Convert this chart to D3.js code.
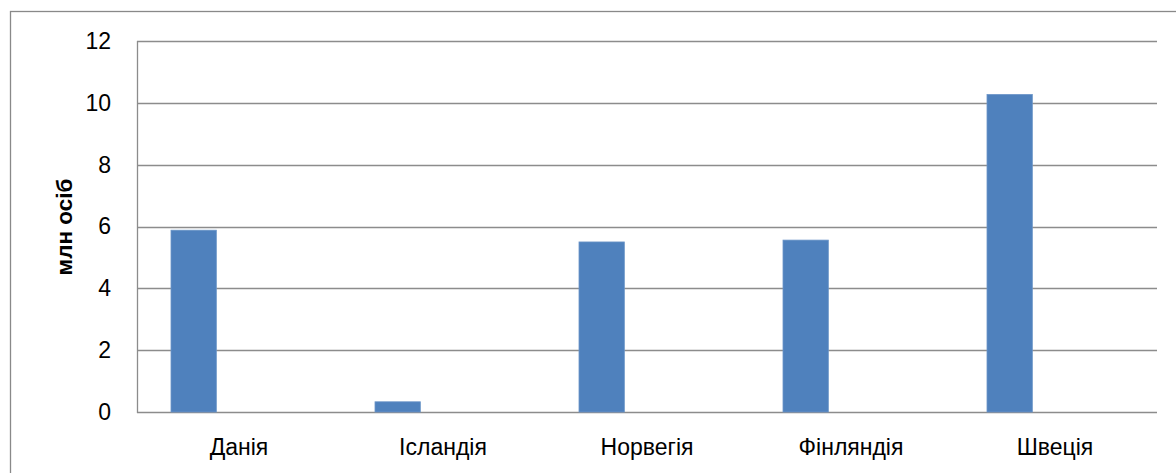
<!DOCTYPE html>
<html>
<head>
<meta charset="utf-8">
<script src="https://cdn.jsdelivr.net/npm/d3@7"></script>
<style>
  html, body { margin: 0; padding: 0; background: #fff; }
  svg { display: block; }
  text { font-family: "Liberation Sans", Arial, sans-serif; fill: #000; }
</style>
</head>
<body>
<svg id="chart" width="1176" height="473"></svg>
<script>
// Population of the Nordic countries, million people
const countries = ["Данія", "Ісландія", "Норвегія", "Фінляндія", "Швеція"];
const population = [5.88, 0.33, 5.50, 5.56, 10.27];
const yTicks = [0, 2, 4, 6, 8, 10, 12];
const yTitle = "млн осіб";
// three series slots per category; only the first one carries values
const seriesSlots = ["s1", "s2", "s3"];

const svg = d3.select("#chart");
const W = 1176, H = 473;
const plot = { left: 137, right: 1157, top: 41, bottom: 412 };
const fontSize = "23px";

// outer chart frame
svg.append("rect")
  .attr("x", 10.5).attr("y", 11.5)
  .attr("width", W).attr("height", H)
  .attr("fill", "none").attr("stroke", "#898989").attr("stroke-width", 1.3);

const x = d3.scaleBand().domain(countries)
  .range([plot.left, plot.right]).paddingInner(0).paddingOuter(0);
const gapWidth = 1.5;
const barW = x.bandwidth() / (seriesSlots.length + gapWidth);
const xs = d3.scaleBand().domain(seriesSlots)
  .range([barW * gapWidth / 2, x.bandwidth() - barW * gapWidth / 2]).padding(0);

const y = d3.scaleLinear().domain([0, 12]).range([plot.bottom, plot.top]);

// horizontal gridlines
svg.append("g")
  .selectAll("line").data(yTicks).join("line")
  .attr("x1", plot.left).attr("x2", plot.right)
  .attr("y1", d => Math.round(y(d)) + 0.5).attr("y2", d => Math.round(y(d)) + 0.5)
  .attr("stroke", "#8c8c8c").attr("stroke-width", 1.3);

// y axis line and labels
svg.append("line")
  .attr("x1", plot.left + 0.5).attr("x2", plot.left + 0.5)
  .attr("y1", plot.top).attr("y2", plot.bottom + 1)
  .attr("stroke", "#8c8c8c").attr("stroke-width", 1.3);

const yAxis = d3.axisLeft(y).tickValues(yTicks).tickSize(0).tickPadding(26);
const gy = svg.append("g").attr("transform", `translate(${plot.left},0)`).call(yAxis);
gy.select(".domain").remove();
gy.selectAll("text").style("font-size", fontSize)
  .style("font-family", "'Liberation Sans', Arial, sans-serif").attr("fill", "#000");

// bars
svg.append("g")
  .selectAll("rect").data(countries).join("rect")
  .attr("x", d => x(d) + xs("s1"))
  .attr("width", xs.bandwidth())
  .attr("y", (d, i) => y(population[i]))
  .attr("height", (d, i) => y(0) - y(population[i]))
  .attr("fill", "#4f81bd")
  .attr("stroke", "#6b95c8").attr("stroke-width", 0.8);

// category labels
const xAxis = d3.axisBottom(x).tickSize(0).tickPadding(27);
const gx = svg.append("g").attr("transform", `translate(0,${plot.bottom})`).call(xAxis);
gx.select(".domain").remove();
gx.selectAll("text").style("font-size", fontSize)
  .style("font-family", "'Liberation Sans', Arial, sans-serif").attr("fill", "#000");

// y axis title
svg.append("text")
  .attr("transform", `translate(71.5,227) rotate(-90)`)
  .attr("text-anchor", "middle")
  .style("font-size", "22.5px").style("font-weight", "bold")
  .text(yTitle);
</script>
</body>
</html>
